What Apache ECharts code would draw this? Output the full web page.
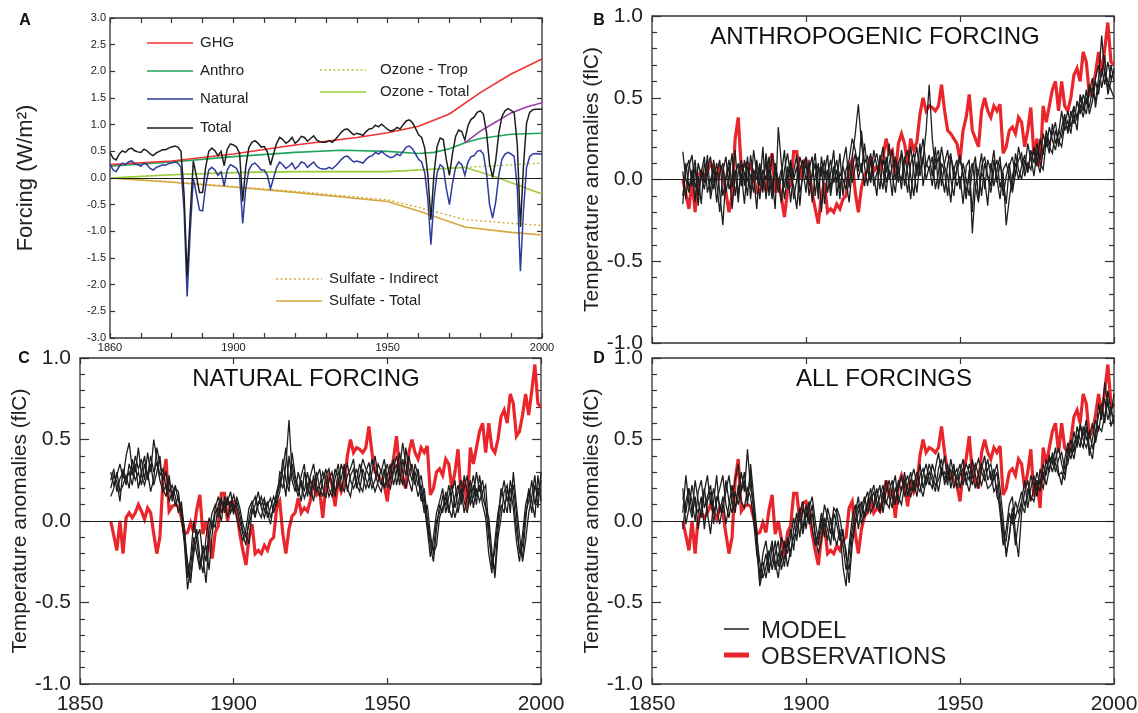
<!DOCTYPE html>
<html>
<head>
<meta charset="utf-8">
<script src="https://cdn.jsdelivr.net/npm/echarts@6/dist/echarts.min.js"></script>
<style>
  html, body { margin: 0; padding: 0; background: #fff; }
  #chart { width: 1138px; height: 713px; }
</style>
</head>
<body>
<div id="chart"></div>
<script>
const FONT = "'Liberation Sans', Arial, Helvetica, sans-serif";

// first year of every annual series
const startYear = 1860;

// tick labels
const forcingYearLabels = [1860, 1900, 1950, 2000];
const tempYearLabels = [1850, 1900, 1950, 2000];

// panel A: smooth forcings, [year, W/m2]
const ghg = [[1860, 0.25], [1880, 0.32], [1900, 0.45], [1920, 0.62], [1940, 0.76], [1950, 0.85], [1960, 0.97], [1970, 1.2], [1980, 1.6], [1990, 1.95], [2000, 2.23]];
const anthro = [[1860, 0.22], [1880, 0.3], [1900, 0.4], [1920, 0.48], [1935, 0.52], [1950, 0.5], [1960, 0.46], [1965, 0.48], [1970, 0.55], [1975, 0.66], [1980, 0.74], [1990, 0.82], [2000, 0.84]];
const purpleLine = [[1975, 0.66], [1980, 0.88], [1985, 1.05], [1990, 1.22], [1995, 1.33], [2000, 1.41]];
const ozoneTrop = [[1860, 0.0], [1880, 0.06], [1900, 0.1], [1920, 0.12], [1950, 0.12], [1960, 0.15], [1975, 0.2], [1985, 0.23], [2000, 0.28]];
const ozoneTotal = [[1860, 0.0], [1880, 0.06], [1900, 0.1], [1920, 0.12], [1950, 0.12], [1960, 0.15], [1975, 0.2], [1985, 0.02], [2000, -0.3]];
const sulfateIndirect = [[1860, 0.0], [1880, -0.07], [1900, -0.16], [1920, -0.25], [1950, -0.41], [1960, -0.55], [1975, -0.78], [1990, -0.85], [2000, -0.89]];
const sulfateTotal = [[1860, 0.0], [1880, -0.08], [1900, -0.17], [1920, -0.27], [1950, -0.44], [1960, -0.62], [1975, -0.92], [1990, -1.02], [2000, -1.07]];

// panel A: annual natural and total forcing from 1860
const natural = [
  0.26, 0.15, 0.12, 0.22, 0.28, 0.25, 0.30, 0.32, 0.27, 0.25,
  0.22, 0.28, 0.25, 0.18, 0.15, 0.20, 0.22, 0.25, 0.24, 0.27,
  0.28, 0.30, 0.28, 0.20, -0.60, -2.22, -1.00, 0.00, -0.30, -0.60,
  -0.62, -0.15, 0.15, 0.20, 0.15, 0.05, 0.12, -0.15, 0.15, 0.25,
  0.22, 0.18, 0.05, -0.85, -0.20, 0.15, 0.25, 0.28, 0.22, 0.15,
  0.15, 0.05, -0.20, 0.00, 0.20, 0.30, 0.25, 0.18, 0.22, 0.28,
  0.17, 0.22, 0.30, 0.28, 0.20, 0.25, 0.30, 0.22, 0.18, 0.17,
  0.17, 0.20, 0.17, 0.22, 0.28, 0.35, 0.40, 0.41, 0.35, 0.30,
  0.32, 0.30, 0.28, 0.35, 0.40, 0.42, 0.48, 0.45, 0.50, 0.45,
  0.41, 0.38, 0.40, 0.45, 0.42, 0.50, 0.58, 0.60, 0.55, 0.45,
  0.35, 0.30, 0.10, -0.40, -1.25, -0.40, 0.10, 0.25, 0.20, -0.20,
  -0.50, -0.10, 0.20, 0.30, 0.25, 0.05, 0.30, 0.40, 0.42, 0.50,
  0.52, 0.45, 0.10, -0.50, -0.75, -0.45, 0.05, 0.35, 0.45, 0.48,
  0.45, 0.40, -0.20, -1.75, -0.60, 0.20, 0.40, 0.45, 0.46, 0.45,
  0.45
];
const total = [
  0.48, 0.37, 0.34, 0.45, 0.51, 0.48, 0.54, 0.56, 0.51, 0.49,
  0.48, 0.54, 0.51, 0.45, 0.42, 0.47, 0.50, 0.53, 0.53, 0.56,
  0.58, 0.60, 0.58, 0.50, -0.30, -1.85, -0.68, 0.32, 0.03, -0.27,
  -0.27, 0.20, 0.50, 0.56, 0.51, 0.42, 0.50, 0.23, 0.54, 0.64,
  0.62, 0.58, 0.46, -0.44, 0.21, 0.57, 0.67, 0.70, 0.65, 0.58,
  0.59, 0.49, 0.24, 0.45, 0.65, 0.76, 0.72, 0.65, 0.69, 0.76,
  0.65, 0.70, 0.78, 0.76, 0.69, 0.74, 0.79, 0.71, 0.68, 0.67,
  0.67, 0.70, 0.67, 0.72, 0.79, 0.86, 0.91, 0.92, 0.86, 0.81,
  0.84, 0.82, 0.80, 0.87, 0.92, 0.93, 0.99, 0.96, 1.01, 0.96,
  0.91, 0.88, 0.90, 0.95, 0.92, 1.00, 1.07, 1.09, 1.04, 0.93,
  0.81, 0.76, 0.56, 0.06, -0.78, 0.08, 0.59, 0.75, 0.72, 0.34,
  0.05, 0.46, 0.78, 0.90, 0.87, 0.71, 0.98, 1.10, 1.14, 1.23,
  1.26, 1.20, 0.86, 0.27, 0.01, 0.33, 0.84, 1.15, 1.26, 1.30,
  1.27, 1.22, 0.62, -0.92, 0.23, 1.03, 1.23, 1.28, 1.29, 1.29,
  1.29
];

// observed temperature anomalies from 1860
const observations = [
  0.00, -0.09, -0.18, 0.00, -0.20, 0.02, 0.05, 0.02, 0.05, 0.10,
  0.06, 0.01, 0.08, 0.05, -0.08, -0.20, -0.10, 0.25, 0.38, 0.06,
  0.09, 0.10, 0.09, 0.02, -0.08, -0.07, -0.01, -0.07, 0.07, 0.16,
  -0.08, 0.00, -0.11, -0.23, -0.07, -0.03, 0.17, 0.17, 0.00, 0.11,
  0.12, 0.05, -0.08, -0.18, -0.27, -0.10, -0.02, -0.20, -0.18, -0.20,
  -0.15, -0.18, -0.12, -0.10, 0.08, 0.12, -0.08, -0.20, -0.05, 0.03,
  0.05, 0.14, 0.05, 0.08, 0.06, 0.13, 0.25, 0.16, 0.18, 0.02,
  0.22, 0.28, 0.22, 0.09, 0.25, 0.18, 0.23, 0.40, 0.50, 0.42,
  0.45, 0.44, 0.42, 0.45, 0.58, 0.42, 0.30, 0.28, 0.25, 0.22,
  0.12, 0.30, 0.38, 0.52, 0.30, 0.25, 0.20, 0.42, 0.50, 0.42,
  0.38, 0.45, 0.42, 0.46, 0.16, 0.20, 0.30, 0.32, 0.28, 0.38,
  0.35, 0.20, 0.30, 0.44, 0.15, 0.25, 0.08, 0.45, 0.35, 0.45,
  0.55, 0.60, 0.42, 0.60, 0.45, 0.42, 0.50, 0.64, 0.68, 0.60,
  0.78, 0.72, 0.52, 0.55, 0.65, 0.78, 0.65, 0.80, 0.96, 0.72,
  0.70
];

// panel B: model runs, anthropogenic forcing
const anthroRun1 = [
  0.05, -0.12, 0.08, 0.15, -0.05, 0.02, -0.15, 0.10, 0.03, -0.08,
  0.12, -0.02, -0.20, 0.05, 0.14, -0.06, 0.00, 0.18, -0.10, 0.04,
  -0.15, 0.08, 0.02, -0.08, 0.12, -0.04, 0.20, -0.12, 0.06, 0.00,
  -0.18, 0.32, 0.10, -0.05, 0.08, -0.14, 0.05, 0.15, -0.08, 0.02,
  0.10, -0.10, 0.04, 0.16, -0.06, 0.08, -0.15, 0.03, 0.12, -0.02,
  0.06, -0.12, 0.10, 0.20, -0.05, 0.14, 0.28, 0.46, 0.22, 0.08,
  -0.04, 0.12, 0.02, -0.10, 0.15, 0.06, -0.08, 0.10, 0.18, 0.00,
  0.08, -0.06, 0.14, 0.04, -0.12, 0.10, 0.20, 0.02, 0.12, 0.30,
  0.58, 0.25, 0.06, 0.14, -0.04, 0.10, 0.18, 0.00, -0.10, 0.08,
  0.15, 0.02, -0.12, 0.06, -0.20, 0.10, 0.04, 0.16, -0.06, 0.12,
  0.05, 0.18, -0.02, 0.10, 0.00, -0.15, 0.08, 0.14, 0.02, 0.20,
  0.10, 0.06, 0.22, 0.12, 0.18, 0.08, 0.25, 0.15, 0.30, 0.22,
  0.28, 0.35, 0.20, 0.32, 0.40, 0.28, 0.38, 0.45, 0.36, 0.50,
  0.42, 0.55, 0.40, 0.48, 0.60, 0.52, 0.68, 0.58, 0.72, 0.62,
  0.66
];
const anthroRun2 = [
  -0.15, 0.10, -0.05, 0.02, 0.12, -0.10, 0.06, -0.02, 0.15, -0.12,
  0.00, 0.10, -0.08, -0.28, 0.02, 0.12, -0.05, 0.06, -0.14, 0.10,
  0.04, -0.10, 0.15, 0.02, -0.18, 0.08, -0.04, 0.12, -0.10, 0.16,
  0.05, -0.08, 0.02, 0.18, -0.06, 0.10, -0.12, 0.00, 0.14, 0.06,
  -0.08, 0.12, -0.14, 0.02, 0.10, -0.20, 0.04, 0.15, -0.06, 0.08,
  -0.02, 0.16, -0.10, 0.06, 0.12, 0.25, 0.18, 0.05, 0.30, 0.10,
  0.14, 0.00, 0.18, 0.08, -0.06, 0.12, 0.04, 0.22, 0.02, -0.08,
  0.10, 0.16, -0.04, 0.08, 0.20, 0.05, -0.08, 0.12, 0.25, 0.08,
  0.15, 0.02, 0.20, -0.06, 0.10, 0.05, -0.10, 0.14, 0.06, -0.04,
  0.02, -0.15, 0.08, 0.12, -0.33, -0.05, 0.06, -0.10, 0.10, 0.02,
  -0.08, 0.06, 0.12, -0.05, 0.04, -0.28, -0.12, 0.02, 0.10, 0.00,
  0.08, 0.15, 0.04, 0.18, 0.10, 0.22, 0.12, 0.28, 0.20, 0.32,
  0.24, 0.18, 0.30, 0.26, 0.38, 0.30, 0.42, 0.34, 0.48, 0.40,
  0.52, 0.46, 0.58, 0.50, 0.62, 0.70, 0.56, 0.66, 0.60, 0.55,
  0.50
];
const anthroRun3 = [
  0.17, 0.00, -0.08, 0.06, -0.14, 0.10, 0.02, -0.06, 0.08, 0.14,
  -0.06, 0.04, 0.12, -0.10, 0.00, 0.08, -0.18, 0.02, 0.10, -0.04,
  0.12, 0.00, -0.06, 0.18, 0.04, -0.12, 0.06, 0.00, 0.14, -0.08,
  0.08, 0.00, -0.14, 0.06, 0.16, 0.02, -0.04, -0.18, 0.06, 0.12,
  0.00, 0.06, 0.14, -0.10, 0.08, 0.02, 0.12, -0.08, 0.04, 0.18,
  -0.10, 0.04, 0.00, -0.06, 0.10, -0.02, 0.08, 0.14, 0.04, 0.22,
  0.06, -0.02, 0.10, 0.16, 0.04, -0.06, 0.14, 0.00, 0.08, 0.12,
  -0.02, 0.18, 0.06, -0.08, 0.10, 0.16, 0.02, 0.22, -0.04, 0.10,
  0.06, 0.14, -0.06, 0.04, 0.20, 0.08, 0.02, -0.14, 0.06, 0.12,
  -0.06, 0.10, 0.00, -0.10, 0.06, 0.14, -0.12, 0.04, 0.00, -0.16,
  0.10, -0.04, 0.06, 0.14, -0.10, 0.02, 0.10, -0.06, 0.16, 0.06,
  0.00, 0.12, 0.06, 0.14, 0.02, 0.18, 0.10, 0.06, 0.24, 0.16,
  0.34, 0.22, 0.28, 0.42, 0.30, 0.36, 0.28, 0.44, 0.38, 0.46,
  0.38, 0.50, 0.44, 0.56, 0.48, 0.62, 0.88, 0.64, 0.55, 0.70,
  0.60
];
const anthroRun4 = [
  -0.10, 0.06, 0.12, -0.04, 0.08, -0.16, 0.04, 0.14, -0.08, 0.00,
  0.06, -0.14, 0.04, 0.10, -0.08, 0.02, 0.16, -0.10, 0.04, 0.12,
  -0.04, 0.14, -0.12, 0.06, 0.00, 0.10, -0.08, 0.16, 0.02, -0.12,
  0.10, -0.02, 0.06, -0.12, 0.02, 0.12, 0.00, 0.08, -0.16, 0.06,
  0.14, -0.04, 0.02, 0.10, -0.12, 0.14, 0.00, 0.06, -0.10, 0.04,
  0.12, -0.06, 0.08, 0.00, -0.14, 0.06, 0.16, 0.00, 0.10, -0.04,
  0.08, 0.16, -0.04, 0.04, 0.10, 0.20, -0.02, 0.06, -0.10, 0.14,
  0.04, 0.00, 0.12, 0.18, 0.02, -0.10, 0.10, 0.06, 0.14, 0.00,
  0.08, -0.04, 0.12, 0.18, 0.04, -0.08, 0.10, 0.16, 0.00, 0.06,
  0.12, 0.04, -0.08, 0.02, 0.10, -0.04, -0.14, 0.08, 0.14, 0.02,
  -0.04, 0.12, 0.00, -0.12, 0.06, 0.10, 0.02, -0.08, 0.04, 0.12,
  0.16, 0.02, 0.10, 0.06, 0.20, 0.12, 0.04, 0.18, 0.26, 0.20,
  0.16, 0.30, 0.24, 0.20, 0.34, 0.42, 0.32, 0.40, 0.30, 0.52,
  0.46, 0.40, 0.54, 0.62, 0.44, 0.58, 0.64, 0.76, 0.52, 0.60,
  0.68
];

// panel C: model runs, natural forcing
const naturalRun1 = [
  0.30, 0.22, 0.28, 0.35, 0.26, 0.40, 0.48, 0.32, 0.25, 0.30,
  0.22, 0.35, 0.28, 0.40, 0.30, 0.36, 0.25, 0.18, 0.22, 0.12,
  0.18, 0.10, 0.15, 0.05, -0.15, -0.42, -0.28, -0.10, -0.20, -0.30,
  -0.15, -0.25, -0.05, 0.05, 0.10, 0.02, 0.12, 0.08, 0.15, 0.05,
  0.10, 0.02, -0.05, -0.12, -0.05, 0.08, 0.12, 0.04, 0.10, 0.15,
  0.06, 0.12, 0.02, 0.08, 0.18, 0.25, 0.20, 0.35, 0.62, 0.30,
  0.22, 0.15, 0.25, 0.18, 0.30, 0.20, 0.12, 0.26, 0.32, 0.20,
  0.14, 0.25, 0.30, 0.18, 0.22, 0.35, 0.28, 0.20, 0.15, 0.26,
  0.32, 0.22, 0.18, 0.30, 0.36, 0.25, 0.18, 0.24, 0.32, 0.20,
  0.28, 0.35, 0.22, 0.30, 0.42, 0.30, 0.20, 0.28, 0.35, 0.25,
  0.15, 0.22, 0.10, -0.05, -0.22, -0.10, 0.05, 0.12, 0.20, 0.05,
  0.15, 0.22, 0.08, 0.18, 0.25, 0.12, 0.05, 0.18, 0.28, 0.15,
  0.22, 0.10, 0.02, -0.20, -0.32, -0.12, 0.05, 0.15, 0.25, 0.12,
  0.20, 0.08, -0.12, -0.25, -0.08, 0.10, 0.18, 0.05, 0.22, 0.15,
  0.25
];
const naturalRun2 = [
  0.25, 0.32, 0.18, 0.26, 0.30, 0.22, 0.35, 0.28, 0.40, 0.32,
  0.38, 0.25, 0.42, 0.30, 0.50, 0.38, 0.28, 0.32, 0.20, 0.25,
  0.15, 0.22, 0.12, 0.08, -0.05, -0.30, -0.38, -0.15, -0.05, -0.22,
  -0.32, -0.10, 0.02, -0.05, 0.08, 0.15, 0.05, 0.12, 0.02, 0.10,
  0.16, 0.08, 0.00, -0.08, -0.15, 0.02, 0.10, 0.15, 0.06, 0.02,
  0.12, 0.05, -0.02, 0.10, 0.15, 0.22, 0.38, 0.25, 0.18, 0.42,
  0.28, 0.20, 0.12, 0.30, 0.22, 0.15, 0.28, 0.18, 0.22, 0.30,
  0.25, 0.15, 0.20, 0.32, 0.26, 0.18, 0.30, 0.35, 0.25, 0.20,
  0.25, 0.35, 0.28, 0.20, 0.26, 0.38, 0.30, 0.22, 0.18, 0.28,
  0.35, 0.25, 0.32, 0.40, 0.28, 0.22, 0.45, 0.32, 0.25, 0.30,
  0.22, 0.28, 0.15, -0.02, -0.15, -0.25, -0.05, 0.10, 0.05, 0.18,
  0.08, 0.02, 0.15, 0.22, 0.10, 0.28, 0.18, 0.10, 0.15, 0.30,
  0.18, 0.25, 0.10, -0.10, -0.22, -0.30, -0.05, 0.10, 0.05, 0.20,
  0.12, 0.22, 0.05, -0.20, -0.15, 0.05, 0.12, 0.25, 0.10, 0.20,
  0.18
];
const naturalRun3 = [
  0.15, 0.20, 0.30, 0.18, 0.22, 0.28, 0.20, 0.38, 0.30, 0.45,
  0.28, 0.22, 0.30, 0.18, 0.26, 0.45, 0.35, 0.25, 0.30, 0.18,
  0.22, 0.15, 0.05, 0.12, -0.08, -0.25, -0.35, -0.20, -0.10, -0.05,
  -0.22, -0.38, -0.12, 0.00, -0.04, 0.10, 0.14, 0.05, 0.12, 0.18,
  0.06, 0.12, 0.04, -0.06, -0.10, -0.02, 0.05, 0.10, 0.18, 0.08,
  0.02, 0.10, 0.14, 0.05, 0.12, 0.30, 0.28, 0.15, 0.40, 0.25,
  0.18, 0.30, 0.22, 0.14, 0.20, 0.28, 0.35, 0.22, 0.15, 0.25,
  0.32, 0.20, 0.15, 0.26, 0.35, 0.22, 0.18, 0.28, 0.32, 0.38,
  0.22, 0.18, 0.32, 0.26, 0.20, 0.30, 0.40, 0.28, 0.22, 0.32,
  0.20, 0.30, 0.38, 0.22, 0.32, 0.48, 0.35, 0.25, 0.18, 0.35,
  0.28, 0.12, 0.20, 0.02, -0.12, -0.18, 0.00, 0.05, 0.15, 0.10,
  0.22, 0.12, 0.02, 0.10, 0.20, 0.05, 0.15, 0.25, 0.08, 0.20,
  0.12, 0.18, 0.22, -0.05, -0.28, -0.18, 0.00, 0.20, 0.12, 0.05,
  0.25, 0.15, -0.05, -0.18, -0.22, 0.00, 0.20, 0.12, 0.02, 0.28,
  0.12
];
const naturalRun4 = [
  0.20, 0.28, 0.24, 0.12, 0.32, 0.25, 0.30, 0.22, 0.35, 0.20,
  0.30, 0.40, 0.25, 0.35, 0.22, 0.30, 0.40, 0.20, 0.15, 0.28,
  0.12, 0.20, 0.18, 0.02, -0.12, -0.35, -0.22, 0.00, -0.12, -0.28,
  -0.20, -0.15, -0.30, -0.08, 0.05, 0.08, 0.00, 0.15, 0.10, 0.12,
  0.04, 0.15, 0.08, -0.02, -0.08, -0.14, 0.08, 0.02, 0.12, 0.10,
  0.14, 0.02, 0.08, 0.15, 0.10, 0.18, 0.32, 0.45, 0.22, 0.35,
  0.25, 0.18, 0.28, 0.35, 0.15, 0.25, 0.20, 0.30, 0.20, 0.15,
  0.28, 0.32, 0.22, 0.15, 0.30, 0.26, 0.35, 0.18, 0.28, 0.32,
  0.20, 0.28, 0.38, 0.32, 0.28, 0.20, 0.25, 0.35, 0.30, 0.38,
  0.25, 0.20, 0.30, 0.35, 0.22, 0.38, 0.28, 0.40, 0.30, 0.22,
  0.32, 0.18, 0.05, 0.10, -0.08, -0.20, -0.15, 0.02, 0.08, 0.15,
  0.05, 0.18, 0.25, 0.05, 0.15, 0.20, 0.28, 0.12, 0.22, 0.10,
  0.28, 0.15, 0.08, 0.02, -0.18, -0.35, -0.10, 0.02, 0.18, 0.22,
  0.05, 0.30, 0.10, -0.08, -0.25, -0.12, 0.05, 0.15, 0.28, 0.08,
  0.30
];

// panel D: model runs, all forcings
const allRun1 = [
  0.05, 0.28, 0.10, 0.02, 0.15, -0.05, 0.08, 0.20, 0.05, -0.08,
  0.12, 0.28, 0.05, 0.15, -0.02, 0.10, 0.22, 0.08, 0.15, 0.30,
  0.18, 0.44, 0.20, 0.10, -0.15, -0.40, -0.30, -0.20, -0.32, -0.15,
  -0.25, -0.35, -0.18, -0.28, -0.10, -0.22, -0.05, 0.05, -0.10, 0.08,
  0.02, 0.12, -0.05, -0.15, -0.08, 0.05, -0.02, -0.12, 0.02, -0.08,
  -0.15, -0.05, -0.28, -0.40, -0.15, 0.02, 0.10, -0.05, 0.08, 0.15,
  0.05, 0.12, 0.18, 0.08, 0.15, 0.22, 0.10, 0.18, 0.25, 0.12,
  0.20, 0.28, 0.15, 0.22, 0.30, 0.18, 0.25, 0.35, 0.20, 0.28,
  0.22, 0.35, 0.28, 0.18, 0.30, 0.40, 0.25, 0.32, 0.20, 0.28,
  0.35, 0.22, 0.30, 0.25, 0.38, 0.28, 0.20, 0.32, 0.40, 0.25,
  0.30, 0.18, 0.22, 0.05, -0.15, -0.05, 0.10, 0.15, -0.08, -0.22,
  0.05, 0.18, 0.25, 0.12, 0.20, 0.30, 0.22, 0.35, 0.28, 0.40,
  0.35, 0.45, 0.30, 0.22, 0.38, 0.48, 0.42, 0.55, 0.45, 0.60,
  0.52, 0.62, 0.45, 0.38, 0.55, 0.65, 0.72, 0.60, 0.80, 0.68,
  0.72
];
const allRun2 = [
  0.15, 0.05, 0.20, 0.12, 0.00, 0.18, 0.25, 0.08, 0.15, 0.22,
  0.05, 0.12, 0.20, 0.28, 0.10, 0.02, 0.15, 0.25, 0.35, 0.18,
  0.25, 0.12, 0.30, 0.05, -0.10, -0.25, -0.35, -0.28, -0.18, -0.30,
  -0.20, -0.12, -0.30, -0.22, -0.15, -0.05, -0.18, 0.00, 0.08, -0.05,
  0.10, -0.02, 0.05, -0.10, -0.20, -0.12, 0.02, -0.05, -0.15, 0.05,
  -0.02, -0.12, -0.05, -0.22, -0.30, -0.10, 0.00, 0.10, 0.02, 0.12,
  0.18, 0.05, 0.10, 0.20, 0.08, 0.12, 0.25, 0.15, 0.08, 0.20,
  0.15, 0.10, 0.22, 0.28, 0.18, 0.25, 0.15, 0.28, 0.32, 0.22,
  0.30, 0.25, 0.18, 0.32, 0.38, 0.22, 0.30, 0.25, 0.35, 0.20,
  0.28, 0.32, 0.25, 0.18, 0.30, 0.35, 0.28, 0.22, 0.30, 0.38,
  0.25, 0.32, 0.15, 0.10, -0.05, -0.20, -0.10, 0.08, 0.02, 0.10,
  0.18, 0.10, 0.15, 0.28, 0.22, 0.15, 0.32, 0.25, 0.38, 0.30,
  0.42, 0.35, 0.28, 0.30, 0.25, 0.40, 0.50, 0.42, 0.58, 0.50,
  0.45, 0.58, 0.40, 0.50, 0.62, 0.55, 0.68, 0.75, 0.62, 0.70,
  0.60
];
const allRun3 = [
  -0.05, 0.12, 0.20, 0.05, 0.25, 0.12, 0.02, 0.18, 0.28, 0.10,
  0.20, 0.08, -0.02, 0.10, 0.18, 0.28, 0.12, 0.05, 0.22, 0.12,
  0.08, 0.20, 0.15, 0.00, -0.20, -0.32, -0.25, -0.35, -0.22, -0.12,
  -0.30, -0.20, -0.25, -0.12, -0.20, -0.10, 0.02, -0.12, 0.05, 0.12,
  -0.05, 0.08, 0.15, 0.00, -0.12, -0.05, 0.10, 0.02, -0.08, 0.08,
  0.05, -0.08, -0.15, -0.30, -0.20, -0.05, 0.05, 0.15, -0.02, 0.05,
  0.12, 0.20, 0.08, 0.15, 0.22, 0.05, 0.18, 0.25, 0.15, 0.10,
  0.25, 0.18, 0.30, 0.15, 0.25, 0.32, 0.22, 0.18, 0.28, 0.35,
  0.25, 0.20, 0.32, 0.42, 0.28, 0.30, 0.22, 0.38, 0.28, 0.32,
  0.20, 0.28, 0.35, 0.30, 0.22, 0.32, 0.38, 0.30, 0.25, 0.32,
  0.35, 0.25, 0.30, 0.12, -0.10, -0.12, 0.05, -0.02, 0.12, 0.05,
  0.12, 0.25, 0.08, 0.20, 0.28, 0.18, 0.25, 0.20, 0.32, 0.38,
  0.30, 0.38, 0.45, 0.35, 0.28, 0.45, 0.38, 0.48, 0.52, 0.45,
  0.58, 0.50, 0.55, 0.45, 0.50, 0.72, 0.62, 0.85, 0.70, 0.65,
  0.78
];
const allRun4 = [
  0.20, -0.02, 0.08, 0.22, 0.10, 0.05, 0.15, -0.05, 0.12, 0.18,
  -0.02, 0.15, 0.10, 0.05, 0.25, 0.12, 0.05, 0.18, 0.10, 0.20,
  0.30, 0.10, 0.35, 0.15, -0.05, -0.38, -0.20, -0.12, -0.28, -0.25,
  -0.12, -0.28, -0.10, -0.15, -0.28, -0.18, -0.10, -0.05, 0.02, -0.08,
  0.05, 0.00, 0.10, -0.08, -0.15, 0.02, -0.10, 0.08, 0.00, -0.12,
  0.08, 0.02, -0.10, -0.18, -0.38, -0.15, -0.02, 0.05, 0.12, 0.02,
  0.10, 0.15, 0.22, 0.12, 0.05, 0.18, 0.12, 0.08, 0.20, 0.28,
  0.10, 0.20, 0.25, 0.20, 0.15, 0.22, 0.30, 0.22, 0.15, 0.25,
  0.35, 0.28, 0.22, 0.25, 0.32, 0.25, 0.35, 0.20, 0.30, 0.25,
  0.30, 0.38, 0.22, 0.35, 0.28, 0.20, 0.30, 0.35, 0.28, 0.20,
  0.22, 0.28, 0.35, 0.20, 0.02, -0.22, -0.08, 0.05, -0.15, 0.00,
  0.10, 0.05, 0.20, 0.15, 0.12, 0.25, 0.18, 0.30, 0.22, 0.32,
  0.40, 0.30, 0.38, 0.42, 0.32, 0.35, 0.45, 0.38, 0.50, 0.58,
  0.50, 0.45, 0.52, 0.60, 0.48, 0.58, 0.55, 0.65, 0.75, 0.58,
  0.65
];

const RED = '#e8262b';
const INK = '#1e1e1e';
const AXIS = '#333';

const yearly = vals => vals.map((v, i) => [startYear + i, v]);

const chart = echarts.init(document.getElementById('chart'));

const xAxes = [];
const yAxes = [];

// one boxed panel = bottom/top x axes + left/right y axes, ticks pointing inward
function addPanel(grid, xr, yr, o) {
  const tick = { color: AXIS, width: 1.2 };
  const base = { type: 'value', gridIndex: grid, axisLine: { show: false, onZero: false }, splitLine: { show: false } };
  const xBase = { ...base, min: xr[0], max: xr[1], interval: xr[2],
    axisTick: { inside: true, length: o.xTick, lineStyle: tick } };
  const yBase = { ...base, min: yr[0], max: yr[1], interval: yr[2],
    axisTick: { inside: true, length: o.yTick, lineStyle: tick },
    minorTick: { show: !!o.minor, splitNumber: o.minor || 5, length: o.yMinorTick || 4, lineStyle: tick } };
  xAxes.push({ ...xBase, position: 'bottom',
    axisLabel: { show: o.xLabels.length > 0, showMinLabel: true, showMaxLabel: true, margin: o.xMargin,
      fontSize: o.xFont, color: '#222', fontFamily: FONT,
      formatter: v => o.xLabels.includes(v) ? String(v) : '' } });
  xAxes.push({ ...xBase, position: 'top', axisLabel: { show: false } });
  yAxes.push({ ...yBase, position: 'left',
    axisLabel: { margin: o.yMargin, fontSize: o.yFont, color: '#222', fontFamily: FONT,
      showMinLabel: true, showMaxLabel: true, formatter: v => v.toFixed(1) },
    name: o.yName, nameLocation: 'middle', nameGap: o.nameGap,
    nameTextStyle: { fontSize: o.nameFont, color: '#222', fontFamily: FONT } });
  yAxes.push({ ...yBase, position: 'right', axisLabel: { show: false } });
}

const tempOpts = { xTick: 6, yTick: 9, minor: 5, yMinorTick: 5, xMargin: 10, xFont: 21,
  yMargin: 9, yFont: 21, yName: 'Temperature anomalies (flC)', nameFont: 21 };

addPanel(0, [1860, 2000, 10], [-3, 3, 0.5], { xTick: 5, yTick: 5, xLabels: forcingYearLabels, xMargin: 4, xFont: 11,
  yMargin: 4, yFont: 11, yName: 'Forcing (W/m²)', nameGap: 73, nameFont: 22 });
addPanel(1, [1850, 2000, 50], [-1, 1, 0.5], { ...tempOpts, xLabels: [], nameGap: 38 });
addPanel(2, [1850, 2000, 50], [-1, 1, 0.5], { ...tempOpts, xLabels: tempYearLabels, nameGap: 40 });
addPanel(3, [1850, 2000, 50], [-1, 1, 0.5], { ...tempOpts, xLabels: tempYearLabels, nameGap: 38 });

const zeroLine = {
  silent: true, symbol: 'none', label: { show: false },
  lineStyle: { color: INK, width: 1.2, type: 'solid' },
  data: [{ yAxis: 0 }]
};

function line(panel, name, data, color, width, dotted, extra) {
  return Object.assign({
    type: 'line', name, data,
    xAxisIndex: panel * 2, yAxisIndex: panel * 2,
    smooth: false, sampling: null,
    showSymbol: false, symbol: 'none', animation: false,
    lineStyle: { color, width, type: dotted ? [2, 2.5] : 'solid', join: 'miter', miterLimit: 4 },
    emphasis: { disabled: true }
  }, extra || {});
}

const series = [
  line(0, 'Sulfate - Indirect', sulfateIndirect, '#d6a73c', 1.4, true, { markLine: zeroLine }),
  line(0, 'Sulfate - Total', sulfateTotal, '#d6a73c', 1.6),
  line(0, 'Ozone - Trop', ozoneTrop, '#9dcb3c', 1.4, true),
  line(0, 'Ozone - Total', ozoneTotal, '#9dcb3c', 1.6),
  line(0, 'Anthro', anthro, '#1fa55a', 1.6),
  line(0, 'GHG', ghg, '#ef3232', 1.6),
  line(0, 'Anthro+', purpleLine, '#9a3ea8', 1.6),
  line(0, 'Natural', yearly(natural), '#2d3a9e', 1.5),
  line(0, 'Total', yearly(total), INK, 1.5)
];

[[1, [anthroRun1, anthroRun2, anthroRun3, anthroRun4]],
 [2, [naturalRun1, naturalRun2, naturalRun3, naturalRun4]],
 [3, [allRun1, allRun2, allRun3, allRun4]]].forEach(([panel, runs]) => {
  series.push(line(panel, 'OBSERVATIONS', yearly(observations), RED, 3.2, false, { markLine: zeroLine }));
  runs.forEach(r => series.push(line(panel, 'MODEL', yearly(r), INK, 1.3)));
});

// legends, titles and panel letters
const txt = (x, y, text, size, extra) => Object.assign({
  type: 'text', x, y,
  style: { text, font: `${size}px ${FONT}`, fill: '#222', verticalAlign: 'middle', textVerticalAlign: 'middle' }
}, extra || {});
const seg = (x1, x2, y, color, width, dotted) => ({
  type: 'line', shape: { x1, y1: y, x2, y2: y },
  style: { stroke: color, lineWidth: width, lineDash: dotted ? [2, 2.5] : null }
});
const bold = (x, y, t) => ({
  type: 'text', x, y,
  style: { text: t, font: `bold 16px ${FONT}`, fill: '#111', align: 'center', textAlign: 'center',
    verticalAlign: 'middle', textVerticalAlign: 'middle' }
});
const centered = (x, y, t) => ({
  type: 'text', x, y,
  style: { text: t, font: `24px ${FONT}`, fill: '#111', align: 'center', textAlign: 'center',
    verticalAlign: 'middle', textVerticalAlign: 'middle' }
});

const graphic = [
  bold(25, 21, 'A'), bold(599, 21, 'B'), bold(24, 359, 'C'), bold(599, 359, 'D'),
  centered(875, 37, 'ANTHROPOGENIC FORCING'),
  centered(306, 379, 'NATURAL FORCING'),
  centered(884, 379, 'ALL FORCINGS'),
  seg(147, 193, 43, '#ef3232', 1.6), txt(200, 43, 'GHG', 15),
  seg(147, 193, 71, '#1fa55a', 1.6), txt(200, 71, 'Anthro', 15),
  seg(147, 193, 99, '#2d3a9e', 1.6), txt(200, 99, 'Natural', 15),
  seg(147, 193, 128, INK, 1.6), txt(200, 128, 'Total', 15),
  seg(320, 366, 70, '#9dcb3c', 1.6, true), txt(380, 70, 'Ozone - Trop', 15),
  seg(320, 366, 92, '#9dcb3c', 1.6), txt(380, 92, 'Ozone - Total', 15),
  seg(276, 322, 279, '#d6a73c', 1.6, true), txt(329, 279, 'Sulfate - Indirect', 15),
  seg(276, 322, 301, '#d6a73c', 1.6), txt(329, 301, 'Sulfate - Total', 15),
  seg(724, 749, 629, INK, 1.5), txt(761, 631, 'MODEL', 24),
  seg(724, 749, 655, RED, 5), txt(761, 657, 'OBSERVATIONS', 24)
];

const gridBox = { show: true, borderColor: AXIS, borderWidth: 1.3, backgroundColor: 'transparent',
  containLabel: false, outerBoundsMode: 'none' };

chart.setOption({
  animation: false,
  textStyle: { fontFamily: FONT },
  grid: [
    { ...gridBox, left: 110, right: 1138 - 542, top: 18, bottom: 713 - 338 },
    { ...gridBox, left: 652, right: 1138 - 1114, top: 16, bottom: 713 - 343 },
    { ...gridBox, left: 80, right: 1138 - 541, top: 358, bottom: 713 - 684 },
    { ...gridBox, left: 652, right: 1138 - 1114, top: 358, bottom: 713 - 684 }
  ],
  xAxis: xAxes,
  yAxis: yAxes,
  series,
  graphic
});

new ResizeObserver(() => chart.resize()).observe(document.getElementById('chart'));
</script>
</body>
</html>
